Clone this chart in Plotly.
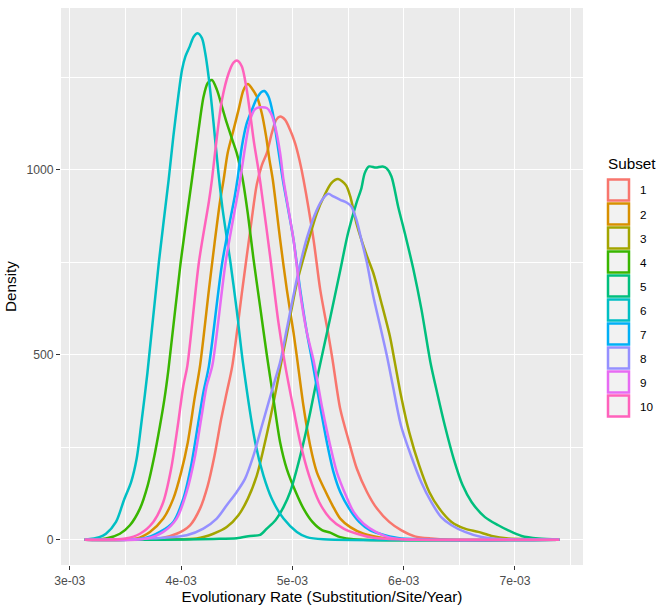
import plotly.graph_objects as go

# ---------------- data (x in units of 1e-3 substitution/site/year) ----------------
SCALE = 1e-3
subsets = ["1", "2", "3", "4", "5", "6", "7", "8", "9", "10"]
colors = ["#F8766D", "#D89000", "#A3A500", "#39B600", "#00BF7D",
          "#00BFC4", "#00B0F6", "#9590FF", "#E76BF3", "#FF62BC"]

x1 = [3.134, 3.81, 3.96, 4.08, 4.17, 4.24, 4.30, 4.36, 4.41, 4.46, 4.55, 4.63, 4.68, 4.725, 4.77, 4.815, 4.854, 4.89, 4.935, 4.979, 5.024, 5.063, 5.1, 5.19, 5.25, 5.32, 5.36, 5.43, 5.51, 5.58, 5.67, 5.76, 5.87, 5.98, 6.10, 6.25, 6.4, 7.398]
y1 = [0, 3, 16, 39, 84, 147, 227, 326, 398, 470, 676, 856, 960, 1012, 1045, 1099, 1135, 1144, 1135, 1108, 1072, 1027, 973, 811, 676, 560, 488, 353, 263, 191, 129, 84, 48, 25, 9, 3, 0, 0]

x2 = [3.134, 3.6, 3.72, 3.84, 3.93, 4.0, 4.06, 4.12, 4.17, 4.25, 4.30, 4.35, 4.382, 4.418, 4.471, 4.516, 4.561, 4.6, 4.636, 4.68, 4.725, 4.764, 4.794, 4.824, 4.89, 4.95, 5.01, 5.04, 5.10, 5.16, 5.22, 5.30, 5.36, 5.43, 5.52, 5.64, 5.80, 5.95, 7.398]
y2 = [0, 3, 21, 57, 111, 182, 263, 380, 470, 676, 800, 915, 973, 1045, 1108, 1162, 1216, 1232, 1220, 1198, 1153, 1090, 1027, 973, 811, 676, 560, 495, 360, 254, 182, 129, 93, 57, 34, 16, 5, 1, 0]

x3 = [3.134, 3.84, 4.14, 4.29, 4.41, 4.515, 4.6, 4.68, 4.74, 4.8, 4.86, 4.91, 4.95, 5.04, 5.13, 5.22, 5.29, 5.35, 5.41, 5.48, 5.52, 5.575, 5.66, 5.727, 5.8, 5.876, 5.92, 5.976, 6.05, 6.14, 6.23, 6.32, 6.43, 6.55, 6.67, 6.79, 6.94, 7.15, 7.398]
y3 = [0, 1, 3, 16, 34, 66, 111, 173, 245, 326, 416, 495, 555, 694, 793, 883, 932, 964, 975, 959, 928, 856, 775, 721, 640, 550, 480, 389, 290, 200, 129, 84, 48, 30, 21, 10, 3, 1, 0]

x4 = [3.134, 3.325, 3.45, 3.54, 3.63, 3.70, 3.76, 3.81, 3.85, 3.886, 3.996, 4.097, 4.157, 4.202, 4.238, 4.277, 4.322, 4.367, 4.411, 4.456, 4.5, 4.536, 4.554, 4.60, 4.65, 4.71, 4.77, 4.83, 4.89, 4.95, 5.03, 5.10, 5.18, 5.27, 5.34, 5.43, 5.55, 7.398]
y4 = [0, 3, 16, 39, 84, 147, 227, 308, 380, 460, 750, 973, 1108, 1198, 1234, 1243, 1216, 1171, 1126, 1085, 1045, 1000, 973, 880, 760, 630, 500, 380, 263, 191, 129, 84, 48, 25, 19, 7, 1, 0]

x5 = [3.134, 3.84, 4.29, 4.5, 4.62, 4.71, 4.77, 4.846, 4.92, 4.98, 5.04, 5.1, 5.16, 5.22, 5.34, 5.425, 5.5, 5.575, 5.62, 5.65, 5.69, 5.75, 5.81, 5.847, 5.89, 5.95, 6.01, 6.088, 6.16, 6.24, 6.30, 6.37, 6.45, 6.53, 6.61, 6.73, 6.85, 6.94, 7.06, 7.21, 7.398]
y5 = [0, 0, 2, 4, 10, 13, 30, 52, 88, 129, 191, 263, 344, 434, 600, 721, 829, 910, 950, 991, 1009, 1006, 1009, 1004, 982, 901, 829, 730, 622, 480, 398, 308, 218, 147, 102, 61, 39, 25, 10, 3, 0]

x6 = [3.134, 3.265, 3.325, 3.415, 3.49, 3.55, 3.6, 3.64, 3.697, 3.80, 3.888, 3.93, 3.978, 4.008, 4.038, 4.077, 4.113, 4.148, 4.187, 4.217, 4.247, 4.277, 4.306, 4.336, 4.37, 4.443, 4.50, 4.555, 4.666, 4.74, 4.816, 4.92, 5.04, 5.13, 5.28, 7.398]
y6 = [0, 7, 16, 48, 110, 155, 218, 308, 450, 750, 973, 1090, 1207, 1270, 1306, 1333, 1360, 1369, 1356, 1315, 1252, 1171, 1081, 990, 900, 750, 620, 480, 263, 173, 110, 57, 21, 7, 1, 0]

x7 = [3.134, 3.66, 3.81, 3.93, 4.02, 4.09, 4.15, 4.2, 4.25, 4.37, 4.483, 4.507, 4.546, 4.59, 4.636, 4.68, 4.725, 4.749, 4.785, 4.824, 4.86, 4.896, 4.914, 5.01, 5.07, 5.13, 5.18, 5.25, 5.31, 5.37, 5.43, 5.51, 5.60, 5.70, 5.83, 5.98, 7.398]
y7 = [0, 3, 21, 48, 111, 200, 308, 398, 470, 750, 930, 975, 1063, 1126, 1162, 1193, 1211, 1213, 1198, 1153, 1081, 1009, 973, 811, 676, 560, 480, 360, 263, 182, 129, 84, 48, 25, 12, 3, 0]

x8 = [3.134, 3.54, 3.84, 4.05, 4.2, 4.32, 4.41, 4.5, 4.575, 4.65, 4.726, 4.786, 4.846, 4.89, 4.95, 5.04, 5.13, 5.22, 5.278, 5.323, 5.368, 5.43, 5.49, 5.53, 5.575, 5.62, 5.67, 5.727, 5.787, 5.85, 5.9, 5.976, 6.066, 6.157, 6.247, 6.337, 6.43, 6.55, 6.7, 6.85, 7.398]
y8 = [0, 1, 5, 12, 30, 57, 93, 129, 165, 227, 308, 371, 434, 480, 570, 705, 815, 892, 923, 935, 928, 919, 911, 901, 865, 811, 748, 658, 580, 496, 420, 308, 227, 156, 102, 61, 39, 21, 7, 2, 0]

x9 = [3.134, 3.69, 3.84, 3.96, 4.05, 4.12, 4.18, 4.23, 4.28, 4.40, 4.5, 4.531, 4.576, 4.62, 4.665, 4.71, 4.77, 4.806, 4.845, 4.89, 4.92, 5.01, 5.07, 5.13, 5.19, 5.27, 5.34, 5.40, 5.48, 5.55, 5.64, 5.75, 5.86, 6.0, 7.398]
y9 = [0, 3, 21, 57, 129, 218, 326, 416, 470, 750, 920, 973, 1063, 1135, 1164, 1169, 1167, 1153, 1117, 1045, 973, 811, 667, 560, 485, 353, 254, 182, 120, 75, 43, 21, 7, 1, 0]

x10 = [3.134, 3.5, 3.63, 3.75, 3.84, 3.91, 3.97, 4.02, 4.056, 4.16, 4.25, 4.277, 4.322, 4.367, 4.427, 4.471, 4.507, 4.546, 4.585, 4.62, 4.656, 4.695, 4.719, 4.80, 4.875, 4.936, 5.01, 5.07, 5.15, 5.24, 5.34, 5.46, 5.58, 5.73, 5.95, 7.398]
y10 = [0, 3, 16, 48, 102, 191, 308, 416, 470, 750, 915, 973, 1090, 1189, 1261, 1290, 1295, 1279, 1225, 1153, 1072, 1000, 950, 766, 586, 470, 353, 263, 173, 102, 57, 30, 16, 5, 1, 0]

xs = [x1, x2, x3, x4, x5, x6, x7, x8, x9, x10]
ys = [y1, y2, y3, y4, y5, y6, y7, y8, y9, y10]

x_tick_vals = [3, 4, 5, 6, 7]
x_tick_text = ["3e-03", "4e-03", "5e-03", "6e-03", "7e-03"]
x_minor_vals = [3.5, 4.5, 5.5, 6.5, 7.5]
y_tick_vals = [0, 500, 1000]
y_tick_text = ["0", "500", "1000"]
y_minor_vals = [250, 750, 1250]

# ---------------- figure ----------------
W, H = 669, 611
ML, MR, MT, MB = 61, 86, 8, 46
PW, PH = W - ML - MR, H - MT - MB

fig = go.Figure()
for name, c, xv, yv in zip(subsets, colors, xs, ys):
    fig.add_trace(go.Scatter(
        x=[v * SCALE for v in xv], y=yv, mode="lines", name=name,
        line=dict(color=c, width=2.5, shape="spline", smoothing=0.8),
        showlegend=False, hoverinfo="skip"))

FONT = "Liberation Sans, Arial, Helvetica, sans-serif"
xmin, xmax = 3.134, 7.398
xpad = (xmax - xmin) * 0.05
ymax = 1369
ypad = ymax * 0.05
TITLE_SIZE = 15.3
TICK_SIZE = 12.2

fig.update_layout(
    width=W, height=H,
    margin=dict(l=ML, r=MR, t=MT, b=MB, pad=0, autoexpand=False),
    paper_bgcolor="white", plot_bgcolor="#EBEBEB",
    font=dict(family=FONT, color="black"),
    xaxis=dict(
        range=[(xmin - xpad) * SCALE, (xmax + xpad) * SCALE],
        tickvals=[v * SCALE for v in x_tick_vals], ticktext=x_tick_text,
        ticks="outside", ticklen=4, tickcolor="#333333", tickwidth=1,
        tickfont=dict(size=TICK_SIZE, color="#4D4D4D", family=FONT),
        showgrid=True, gridcolor="white", gridwidth=1.4,
        minor=dict(tickvals=[v * SCALE for v in x_minor_vals], showgrid=True,
                   gridcolor="white", gridwidth=0.7, ticks=""),
        zeroline=False, showline=False, automargin=False,
        title=dict(text="Evolutionary Rate (Substitution/Site/Year)",
                   font=dict(size=TITLE_SIZE, color="black"), standoff=3),
    ),
    yaxis=dict(
        range=[-ypad, ymax + ypad],
        tickvals=y_tick_vals, ticktext=y_tick_text,
        ticks="outside", ticklen=4, tickcolor="#333333", tickwidth=1,
        tickfont=dict(size=TICK_SIZE, color="#4D4D4D", family=FONT),
        showgrid=True, gridcolor="white", gridwidth=1.4,
        minor=dict(tickvals=y_minor_vals, showgrid=True,
                   gridcolor="white", gridwidth=0.7, ticks=""),
        zeroline=False, showline=False, automargin=False,
        title=dict(text="Density", font=dict(size=TITLE_SIZE, color="black"), standoff=6),
    ),
)

# ---------------- legend (ggplot-style keys) ----------------
def px_x(p):
    return (p - ML) / PW

def px_y(p):
    return (H - MB - p) / PH

fig.add_annotation(x=px_x(606), y=px_y(163), xref="paper", yref="paper",
                   text="Subset", showarrow=False, xanchor="left", yanchor="middle",
                   font=dict(size=TITLE_SIZE, color="black", family=FONT))
step = 24.0
top0 = 179.5
for i, (name, c) in enumerate(zip(subsets, colors)):
    t = top0 + i * step
    fig.add_shape(type="rect", xref="paper", yref="paper",
                  x0=px_x(608), x1=px_x(629), y0=px_y(t), y1=px_y(t + 21),
                  line=dict(color=c, width=2.5), fillcolor="#F2F2F2", layer="above")
    fig.add_annotation(x=px_x(638), y=px_y(t + 10.5), xref="paper", yref="paper",
                       text=name, showarrow=False, xanchor="left", yanchor="middle",
                       font=dict(size=11.7, color="black", family=FONT))

fig.write_html("out.html",
               config={"displayModeBar": False},
               post_script="document.body.style.margin='0px';"
                           "document.body.style.overflow='hidden';")
